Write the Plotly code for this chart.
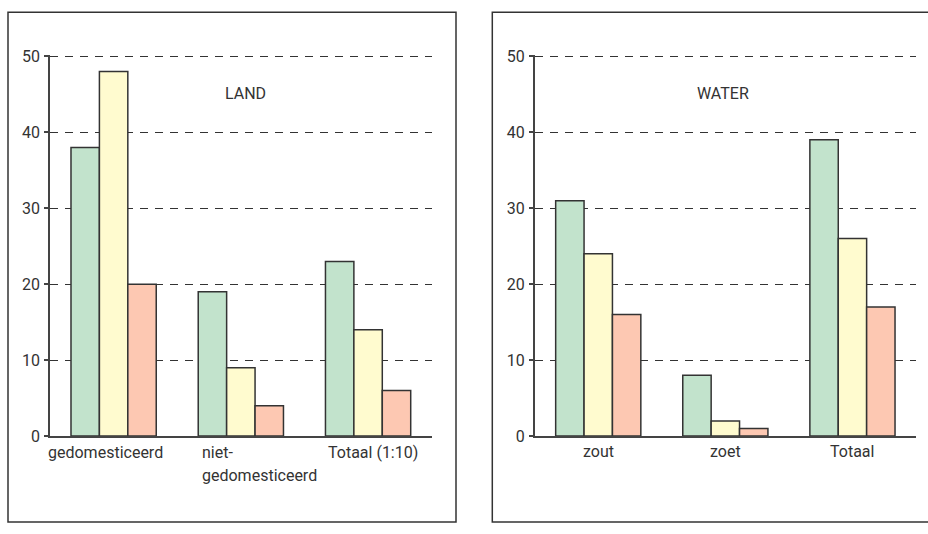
import plotly.graph_objects as go

# ---- data ----
land_categories = ["gedomesticeerd", "niet-gedomesticeerd", "Totaal (1:10)"]
water_categories = ["zout", "zoet", "Totaal"]
series_names = ["serie 1", "serie 2", "serie 3"]
land_values = [
    [38, 19, 23],
    [48, 9, 14],
    [20, 4, 6],
]
water_values = [
    [31, 8, 39],
    [24, 2, 26],
    [16, 1, 17],
]
y_ticks = [0, 10, 20, 30, 40, 50]
panel_titles = ["LAND", "WATER"]

# ---- style ----
colors = ["#c2e3cc", "#fffbcf", "#fdc8b2"]
outline = "#333333"
text_color = "#333333"
FONT = "Roboto, Liberation Sans, sans-serif"
W, H = 928, 534

def px_x(p):
    return p / W

def px_y(p):
    return (H - p) / H

fig = go.Figure()

for i in range(3):
    fig.add_trace(go.Bar(
        x=land_categories, y=land_values[i], name=series_names[i],
        marker=dict(color=colors[i], line=dict(color=outline, width=1.5)),
        xaxis="x", yaxis="y", showlegend=False, hoverinfo="y",
    ))
for i in range(3):
    fig.add_trace(go.Bar(
        x=water_categories, y=water_values[i], name=series_names[i],
        marker=dict(color=colors[i], line=dict(color=outline, width=1.5)),
        xaxis="x2", yaxis="y2", showlegend=False, hoverinfo="y",
    ))

# y range slightly above 50 so the top dashed gridline is kept
Y_MAX = 50.15
scale = (443 - 50) / 50.0  # px per unit
ydom = [px_y(443), px_y(443 - Y_MAX * scale)]
yaxis_common = dict(
    range=[0, Y_MAX], tickvals=y_ticks, showgrid=True, gridcolor="#333333",
    griddash="8px,7px", gridwidth=1.2, zeroline=False, showline=True,
    linecolor="#444444", linewidth=1.5, ticks="outside", ticklen=4,
    tickcolor="#444444", tickwidth=1.5, ticklabelstandoff=1,
    tickfont=dict(family=FONT, size=16, color=text_color), domain=ydom,
    fixedrange=True,
)
xaxis_common = dict(
    showline=True, linecolor="#444444", linewidth=1.5, ticks="",
    showgrid=False, zeroline=False, fixedrange=True, showticklabels=False,
    range=[-0.5, 2.5],
)

fig.update_layout(
    width=W, height=H, margin=dict(l=0, r=0, t=0, b=0),
    paper_bgcolor="white", plot_bgcolor="white",
    barmode="group", bargap=0.33, bargroupgap=0,
    xaxis=dict(xaxis_common, domain=[px_x(50), px_x(431.7)], anchor="y"),
    yaxis=dict(yaxis_common, anchor="x"),
    xaxis2=dict(xaxis_common, domain=[px_x(534.7), px_x(916)], anchor="y2"),
    yaxis2=dict(yaxis_common, anchor="x2"),
)

label_font = dict(family=FONT, size=16, color=text_color)

# left panel category labels (left-aligned, wrapped)
left_labels = [
    (land_categories[0], ["gedomesticeerd"], -68),
    (land_categories[1], ["niet-", "gedomesticeerd"], -41),
    (land_categories[2], ["Totaal (1:10)"], -42),
]
for cat, lines, xs in left_labels:
    for j, line in enumerate(lines):
        fig.add_annotation(
            x=cat, xref="x", y=px_y(460 + 24 * j), yref="paper",
            text=line, showarrow=False, xanchor="left", yanchor="middle",
            xshift=xs, font=label_font,
        )

# right panel category labels (centred)
for cat in water_categories:
    fig.add_annotation(
        x=cat, xref="x2", y=px_y(459), yref="paper", text=cat,
        showarrow=False, xanchor="center", yanchor="middle", font=label_font,
    )

# panel titles
fig.add_annotation(x=px_x(245), y=px_y(89), xref="paper", yref="paper",
                   text=panel_titles[0], showarrow=False,
                   xanchor="center", yanchor="middle", font=label_font)
fig.add_annotation(x=px_x(723), y=px_y(88), xref="paper", yref="paper",
                   text=panel_titles[1], showarrow=False,
                   xanchor="center", yanchor="middle", font=label_font)

# panel frames
fig.add_shape(type="rect", xref="paper", yref="paper",
              x0=px_x(8), x1=px_x(456), y0=px_y(532), y1=px_y(4.5),
              line=dict(color="#333333", width=1.5))
fig.add_shape(type="rect", xref="paper", yref="paper",
              x0=px_x(492.3), x1=px_x(940), y0=px_y(532), y1=px_y(4.5),
              line=dict(color="#333333", width=1.5))

fig.write_html(
    "out.html",
    config={"displayModeBar": False},
    post_script="document.body.style.margin='0';document.body.style.overflow='hidden';",
)
